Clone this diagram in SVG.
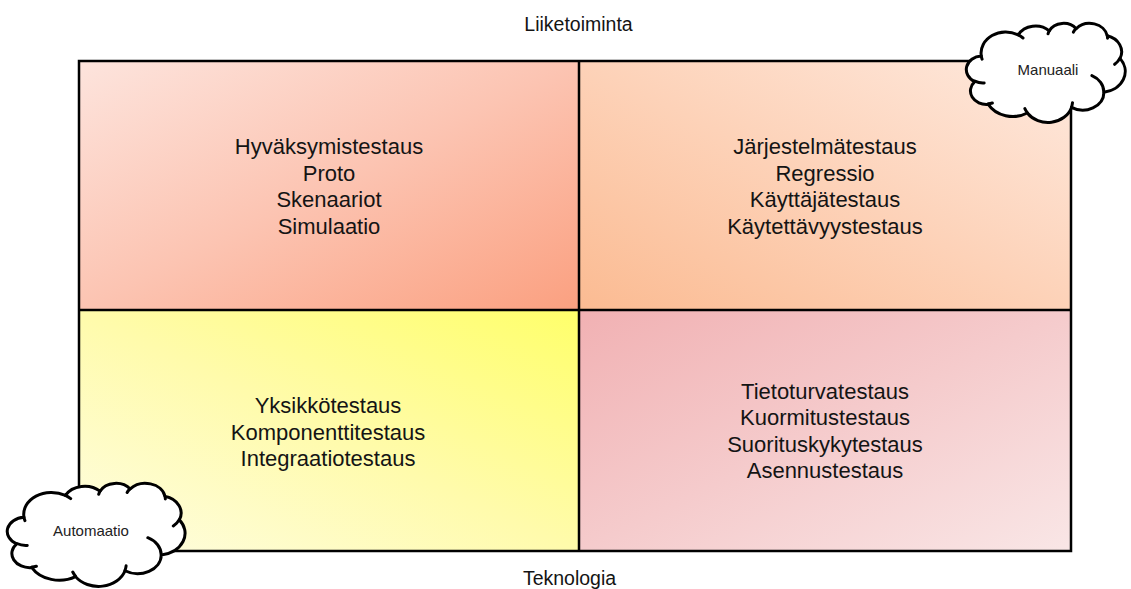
<svg xmlns="http://www.w3.org/2000/svg" width="1131" height="589" viewBox="0 0 1131 589">
  <defs>
    <!-- quadrant fills: each darkens toward the centre of the grid -->
    <linearGradient id="gTL" x1="0" y1="0" x2="1" y2="1">
      <stop offset="0" stop-color="#fde4dd"/>
      <stop offset="0.5" stop-color="#fcc4b2"/>
      <stop offset="1" stop-color="#fba080"/>
    </linearGradient>
    <linearGradient id="gTR" x1="0" y1="1" x2="1" y2="0">
      <stop offset="0" stop-color="#fbbb92"/>
      <stop offset="0.5" stop-color="#fdd2b8"/>
      <stop offset="1" stop-color="#fee9de"/>
    </linearGradient>
    <linearGradient id="gBL" x1="1" y1="0" x2="0" y2="1">
      <stop offset="0" stop-color="#ffff6a"/>
      <stop offset="0.5" stop-color="#fffbab"/>
      <stop offset="1" stop-color="#fefde2"/>
    </linearGradient>
    <linearGradient id="gBR" x1="0" y1="0" x2="1" y2="1">
      <stop offset="0" stop-color="#f1b1b3"/>
      <stop offset="0.5" stop-color="#f5cbcc"/>
      <stop offset="1" stop-color="#f9e6e6"/>
    </linearGradient>
    <!-- cloud outline in a 43200 x 43200 box; stroke stays in screen pixels -->
    <path id="cloudBody" vector-effect="non-scaling-stroke" d="M3900 14370 A6753 9190 0 0 1 14005 5201 A5333 7267 0 0 1 22458 3434 A4365 5945 0 0 1 29835 2484 A4857 6595 0 0 1 38321 5577 A5333 7273 0 0 1 41821 15462 A6775 9220 0 0 1 37408 30206 A5785 7867 0 0 1 28559 36816 A6752 9215 0 0 1 16484 39269 A7720 10543 0 0 1 5808 35475 A4360 5918 0 0 1 2118 25554 A4345 5945 0 0 1 3900 14370 Z"/>
    <path id="cloudHooks" vector-effect="non-scaling-stroke" d="M4693 26177 A4345 5945 0 0 1 2159 25380 M6928 34899 A4360 5918 0 0 1 5819 35280 M16478 39090 A6752 9215 0 0 1 15809 37349 M28827 34751 A6752 9215 0 0 1 28560 36660 M34129 22954 A5785 7867 0 0 1 37380 30089 M41798 15354 A5333 7273 0 0 1 40350 18029 M38324 5426 A4857 6595 0 0 1 38400 6690 M29078 3952 A4857 6595 0 0 1 29819 2340 M22141 4720 A4365 5945 0 0 1 22500 3330 M14000 5192 A6753 9190 0 0 1 15301 6542 M4127 15789 A6753 9190 0 0 1 3900 14370"/>
  </defs>
  <style>
    .cell { stroke: none; }
    .grid { fill: none; stroke: #000; stroke-width: 2.5; }
    .txt { font-family: "Liberation Sans", Arial, sans-serif; font-size: 22px; fill: #141414; text-anchor: middle; }
    .axis { font-family: "Liberation Sans", Arial, sans-serif; font-size: 19.5px; fill: #141414; text-anchor: middle; }
    .cloud-fill { fill: #fff; stroke: #000; stroke-width: 3; stroke-linejoin: round; }
    .cloud-hook { fill: none; stroke: #000; stroke-width: 3; stroke-linecap: round; }
    .ctxt { font-family: "Liberation Sans", Arial, sans-serif; font-size: 15px; fill: #222; text-anchor: middle; }
  </style>

  <rect width="1131" height="589" fill="#fff"/>

  <!-- axis labels -->
  <g id="label-top"><text class="axis" x="578.5" y="31">Liiketoiminta</text></g>
  <g id="label-bottom"><text class="axis" x="569.5" y="585">Teknologia</text></g>

  <!-- quadrants -->
  <g id="q-top-left">
    <rect class="cell" x="79" y="61" width="500" height="249" fill="url(#gTL)"/>
    <text class="txt" x="329" y="154">Hyväksymistestaus</text>
    <text class="txt" x="329" y="180.5">Proto</text>
    <text class="txt" x="329" y="207">Skenaariot</text>
    <text class="txt" x="329" y="233.5">Simulaatio</text>
  </g>
  <g id="q-top-right">
    <rect class="cell" x="579" y="61" width="492" height="249" fill="url(#gTR)"/>
    <text class="txt" x="825" y="154">Järjestelmätestaus</text>
    <text class="txt" x="825" y="180.5">Regressio</text>
    <text class="txt" x="825" y="207">Käyttäjätestaus</text>
    <text class="txt" x="825" y="233.5">Käytettävyystestaus</text>
  </g>
  <g id="q-bottom-left">
    <rect class="cell" x="79" y="310" width="500" height="241" fill="url(#gBL)"/>
    <text class="txt" x="328" y="413">Yksikkötestaus</text>
    <text class="txt" x="328" y="439.5">Komponenttitestaus</text>
    <text class="txt" x="328" y="466">Integraatiotestaus</text>
  </g>
  <g id="q-bottom-right">
    <rect class="cell" x="579" y="310" width="492" height="241" fill="url(#gBR)"/>
    <text class="txt" x="825" y="398.5">Tietoturvatestaus</text>
    <text class="txt" x="825" y="425">Kuormitustestaus</text>
    <text class="txt" x="825" y="451.5">Suorituskykytestaus</text>
    <text class="txt" x="825" y="478">Asennustestaus</text>
  </g>

  <!-- grid lines -->
  <g id="grid">
    <rect class="grid" x="79" y="61" width="992" height="490"/>
    <line class="grid" x1="579" y1="61" x2="579" y2="551"/>
    <line class="grid" x1="79" y1="310" x2="1071" y2="310"/>
  </g>

  <g id="connectors"/>

  <!-- clouds -->
  <g id="cloud-manuaali">
    <g transform="translate(967 23) scale(0.00366 0.002292)">
      <use href="#cloudBody" class="cloud-fill"/>
      <use href="#cloudHooks" class="cloud-hook"/>
    </g>
    <text class="ctxt" x="1048" y="75">Manuaali</text>
  </g>
  <g id="cloud-automaatio">
    <g transform="translate(8 483) scale(0.004097 0.002384)">
      <use href="#cloudBody" class="cloud-fill"/>
      <use href="#cloudHooks" class="cloud-hook"/>
    </g>
    <text class="ctxt" x="91" y="536">Automaatio</text>
  </g>
</svg>
